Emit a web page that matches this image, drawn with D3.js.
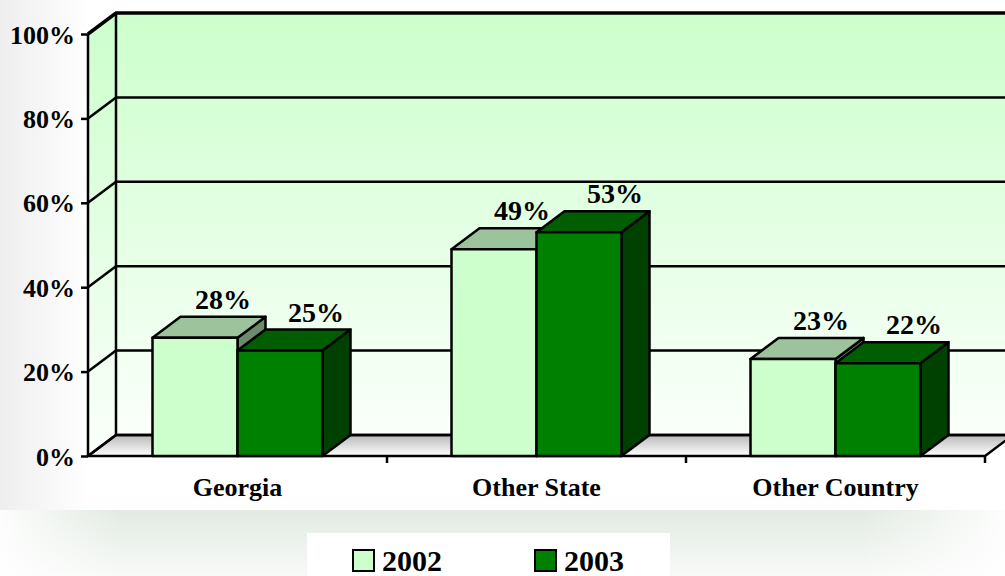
<!DOCTYPE html>
<html>
<head>
<meta charset="utf-8">
<script src="https://cdn.jsdelivr.net/npm/d3@7"></script>
<style>
  body { margin: 0; background: #fff; }
  svg { display: block; font-family: "Liberation Serif", "Times New Roman", serif; font-weight: bold; }
</style>
</head>
<body>
<script>
const categories = ["Georgia", "Other State", "Other Country"]
const years = ["2002", "2003"]
const values2002 = [0.28, 0.49, 0.23]
const values2003 = [0.25, 0.53, 0.22]
const yTicks = [0, 0.2, 0.4, 0.6, 0.8, 1.0]

const width = 1005, height = 576
const dx = 28, dy = -21   // 3d depth offset

const colors = {
  "2002": {front: "#ccffcc", top: "#9cc39c", side: "#6b8b6b"},
  "2003": {front: "#008000", top: "#005e00", side: "#004000"}
}

const data = categories.map((c, i) => ({cat: c, "2002": values2002[i], "2003": values2003[i]}))

const x = d3.scaleBand().domain(categories).range([88, 985])
const xi = d3.scaleBand().domain(years).range([0, 170])
const y = d3.scaleLinear().domain([0, 1]).range([456, 34])

const svg = d3.select("body").append("svg")
    .attr("viewBox", [0, 0, width, height])
    .attr("width", width)
    .attr("height", height)

const defs = svg.append("defs")
const wallGrad = defs.append("linearGradient").attr("id", "wall").attr("x1", 0).attr("y1", 0).attr("x2", 0).attr("y2", 1)
wallGrad.append("stop").attr("offset", "0%").attr("stop-color", "#ccffcc")
wallGrad.append("stop").attr("offset", "100%").attr("stop-color", "#fbfffb")
const floorGrad = defs.append("linearGradient").attr("id", "floor").attr("x1", 0).attr("y1", 0).attr("x2", 0).attr("y2", 1)
floorGrad.append("stop").attr("offset", "0%").attr("stop-color", "#b8b8b8")
floorGrad.append("stop").attr("offset", "100%").attr("stop-color", "#ffffff")
const leftGrad = defs.append("linearGradient").attr("id", "leftShade").attr("x1", 0).attr("y1", 0).attr("x2", 1).attr("y2", 0)
leftGrad.append("stop").attr("offset", "0%").attr("stop-color", "#eeeeee")
leftGrad.append("stop").attr("offset", "100%").attr("stop-color", "#ffffff")
const bandGrad = defs.append("linearGradient").attr("id", "band").attr("x1", 0).attr("y1", 0).attr("x2", 0).attr("y2", 1)
bandGrad.append("stop").attr("offset", "0%").attr("stop-color", "#e2eae2")
bandGrad.append("stop").attr("offset", "100%").attr("stop-color", "#f8faf8")
const fadeL = defs.append("linearGradient").attr("id", "fadeL").attr("x1", 0).attr("y1", 0).attr("x2", 1).attr("y2", 0)
fadeL.append("stop").attr("offset", "0%").attr("stop-color", "#fff").attr("stop-opacity", 0.9)
fadeL.append("stop").attr("offset", "100%").attr("stop-color", "#fff").attr("stop-opacity", 0)
const fadeR = defs.append("linearGradient").attr("id", "fadeR").attr("x1", 0).attr("y1", 0).attr("x2", 1).attr("y2", 0)
fadeR.append("stop").attr("offset", "0%").attr("stop-color", "#fff").attr("stop-opacity", 0)
fadeR.append("stop").attr("offset", "100%").attr("stop-color", "#fff").attr("stop-opacity", 0.9)

// background
svg.append("rect").attr("x", 0).attr("y", 0).attr("width", 90).attr("height", 510).attr("fill", "url(#leftShade)")
svg.append("rect").attr("x", 0).attr("y", 510).attr("width", width).attr("height", 66).attr("fill", "url(#band)")
svg.append("rect").attr("x", 0).attr("y", 510).attr("width", 120).attr("height", 66).attr("fill", "url(#fadeL)")
svg.append("rect").attr("x", 860).attr("y", 510).attr("width", 145).attr("height", 66).attr("fill", "url(#fadeR)")

const x0 = x.range()[0], x1 = x.range()[1]
const pts = a => a.map(p => p.join(",")).join(" ")

// walls
svg.append("polygon")
    .attr("points", pts([[x0 + dx, y(1) + dy], [x1 + dx, y(1) + dy], [x1 + dx, y(0) + dy], [x0 + dx, y(0) + dy]]))
    .attr("fill", "url(#wall)")
svg.append("polygon")
    .attr("points", pts([[x0, y(1)], [x0 + dx, y(1) + dy], [x0 + dx, y(0) + dy], [x0, y(0)]]))
    .attr("fill", "url(#wall)")
svg.append("polygon")
    .attr("points", pts([[x0, y(0)], [x1, y(0)], [x1 + dx, y(0) + dy], [x0 + dx, y(0) + dy]]))
    .attr("fill", "url(#floor)")
    .attr("stroke", "#000").attr("stroke-width", 2.5).attr("stroke-linejoin", "round")

// gridlines
const grid = svg.append("g").attr("stroke", "#000").attr("stroke-width", 2.5).attr("fill", "none")
grid.selectAll("path.g")
  .data(yTicks)
  .join("path")
    .attr("d", d => `M${x0},${y(d)}L${x0 + dx},${y(d) + dy}L${x1 + dx},${y(d) + dy}`)
    .attr("stroke-width", d => d === 1 ? 3.5 : 2.5)
grid.append("path").attr("d", `M${x0 + dx},${y(1) + dy}V${y(0) + dy}`)

// bars
const bars = svg.append("g").attr("stroke", "#000").attr("stroke-width", 2.5).attr("stroke-linejoin", "round")
data.forEach(d => {
  years.forEach(yr => {
    const bx = x(d.cat) + (x.bandwidth() - 170) / 2 + xi(yr)
    const bw = xi.bandwidth()
    const top = y(d[yr]), base = y(0)
    const c = colors[yr]
    bars.append("polygon")
        .attr("points", pts([[bx + bw, top], [bx + bw + dx, top + dy], [bx + bw + dx, base + dy], [bx + bw, base]]))
        .attr("fill", c.side)
    bars.append("polygon")
        .attr("points", pts([[bx, top], [bx + dx, top + dy], [bx + bw + dx, top + dy], [bx + bw, top]]))
        .attr("fill", c.top)
    bars.append("rect")
        .attr("x", bx).attr("y", top).attr("width", bw).attr("height", base - top)
        .attr("fill", c.front)
    svg.append("text")
        .attr("x", bx + bw / 2 + dx + (yr === "2003" ? 8 : 0))
        .attr("y", top + dy - 8)
        .attr("text-anchor", "middle")
        .attr("font-size", 28)
        .text(d3.format(".0%")(d[yr]))
  })
})

// y axis
const yAxis = g => g
    .attr("transform", `translate(${x0},0)`)
    .call(d3.axisLeft(y).tickValues(yTicks).tickFormat(d3.format(".0%")).tickSize(7).tickPadding(6))
    .call(g => g.select(".domain").attr("stroke-width", 2.5).attr("d", `M0,${y(0)}V${y(1)}`))
    .call(g => g.selectAll(".tick line").attr("stroke-width", 2.5))
    .call(g => g.selectAll(".tick text").attr("font-size", 26).attr("font-family", "Liberation Serif").attr("font-weight", "bold").attr("fill", "#000").attr("dy", "0.35em"))

svg.append("g").call(yAxis)

// x axis
const xAxis = g => g
    .attr("transform", `translate(0,${y(0)})`)
    .call(d3.axisBottom(x).tickSize(0).tickPadding(22))
    .call(g => g.select(".domain").remove())
    .call(g => g.selectAll(".tick text").attr("font-size", 26).attr("font-family", "Liberation Serif").attr("font-weight", "bold").attr("fill", "#000"))

svg.append("g").call(xAxis)
svg.append("g")
    .attr("stroke", "#000").attr("stroke-width", 2.5)
  .selectAll("line")
  .data(categories.slice(1).map(c => x(c)).concat([x1]))
  .join("line")
    .attr("x1", d => d).attr("x2", d => d)
    .attr("y1", y(0)).attr("y2", y(0) + 7)

// legend
const legend = svg.append("g")
legend.append("rect").attr("x", 307).attr("y", 533).attr("width", 363).attr("height", 50).attr("fill", "#fff")
const lx = d3.scaleOrdinal().domain(years).range([353, 535])
years.forEach(yr => {
  legend.append("rect")
      .attr("x", lx(yr)).attr("y", 550).attr("width", 21).attr("height", 21)
      .attr("fill", colors[yr].front).attr("stroke", "#000").attr("stroke-width", 2)
  legend.append("text")
      .attr("x", lx(yr) + 29).attr("y", 571)
      .attr("font-size", 30)
      .text(yr)
})
</script>
</body>
</html>
